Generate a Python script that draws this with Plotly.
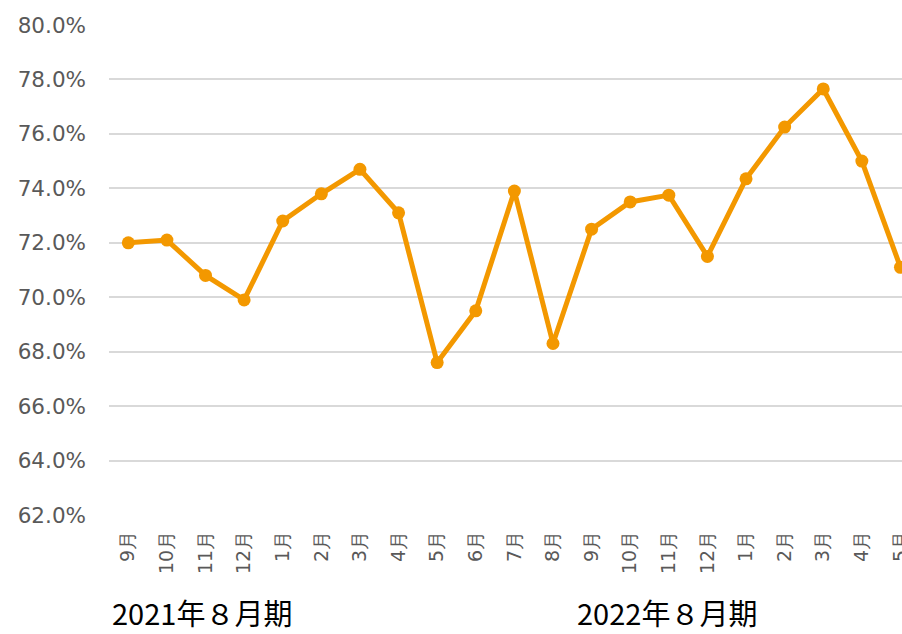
import plotly.graph_objects as go

months = ["9月", "10月", "11月", "12月", "1月", "2月", "3月", "4月", "5月", "6月", "7月", "8月",
          "9月", "10月", "11月", "12月", "1月", "2月", "3月", "4月", "5月"]
values = [72.0, 72.1, 70.8, 69.9, 72.8, 73.8, 74.7, 73.1, 67.6, 69.5, 73.9, 68.3,
          72.5, 73.5, 73.75, 71.5, 74.35, 76.25, 77.65, 75.0, 71.1]
period_labels = ["2021年８月期", "2022年８月期"]
period_pos = [-0.45, 11.6]

xs = list(range(len(months)))

fig = go.Figure()
fig.add_trace(go.Scatter(
    x=xs, y=values, mode="lines+markers",
    line=dict(color="#F39800", width=5),
    marker=dict(color="#F39800", size=13),
    showlegend=False, hoverinfo="skip",
))

for lbl, pos in zip(period_labels, period_pos):
    fig.add_annotation(
        x=pos, xref="x", y=-0.2429, yref="paper", text=lbl, showarrow=False,
        xanchor="left", yanchor="bottom", borderpad=0,
        font=dict(family="Noto Sans CJK JP", size=29, color="#000000"),
    )

fig.update_layout(
    width=902, height=634, autosize=False,
    margin=dict(l=109, r=0, t=25, b=119, autoexpand=False),
    paper_bgcolor="white", plot_bgcolor="white",
    xaxis=dict(
        range=[-0.5, 20.04], tickmode="array", tickvals=xs, ticktext=months,
        tickangle=-90, showgrid=False, zeroline=False, showline=False, automargin=False,
        tickfont=dict(family="DejaVu Sans", size=19, color="#595959"),
        ticklabelstandoff=11, ticklabeloverflow="allow",
    ),
    yaxis=dict(
        range=[62, 80], dtick=2, tick0=62, tickformat=".1f", ticksuffix="%",
        showgrid=True, gridcolor="#D9D9D9", gridwidth=1.5, zeroline=False, showline=False,
        automargin=False,
        tickfont=dict(family="DejaVu Sans", size=21.5, color="#595959"),
        ticklabelstandoff=22,
    ),
)

fig.write_html(
    "out.html",
    config={"responsive": False, "displayModeBar": False},
    post_script="document.body.style.margin='0';document.body.style.overflow='hidden';",
)
